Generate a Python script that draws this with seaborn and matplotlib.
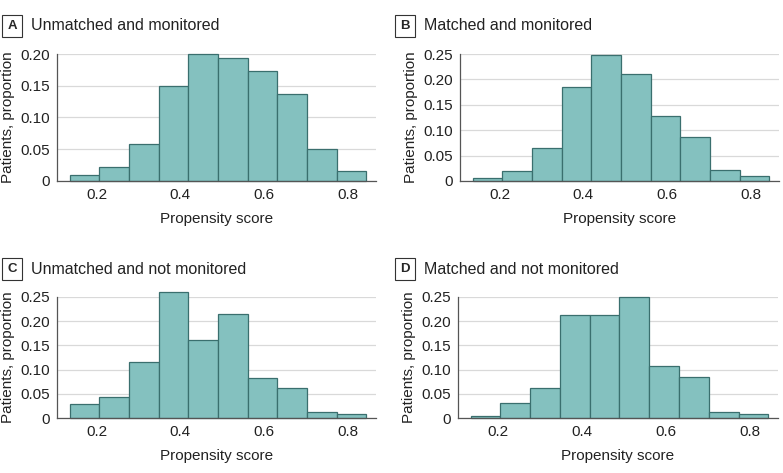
import numpy as np
import matplotlib
matplotlib.use("Agg")
import matplotlib.pyplot as plt
import seaborn as sns

# bin edges of propensity score (10 bins)
edges = [0.135, 0.206, 0.277, 0.348, 0.419, 0.490, 0.561, 0.632, 0.703, 0.774, 0.845]

# proportions per bin
unmatched_monitored = [0.010, 0.022, 0.058, 0.150, 0.200, 0.194, 0.173, 0.137, 0.051, 0.016]
matched_monitored = [0.005, 0.020, 0.065, 0.185, 0.249, 0.210, 0.127, 0.087, 0.022, 0.009]
unmatched_not_monitored = [0.029, 0.043, 0.115, 0.260, 0.161, 0.215, 0.082, 0.063, 0.012, 0.008]
matched_not_monitored = [0.004, 0.032, 0.063, 0.212, 0.213, 0.251, 0.107, 0.084, 0.012, 0.008]

panel_letters = ["A", "B", "C", "D"]
panel_titles = ["Unmatched and monitored", "Matched and monitored",
                "Unmatched and not monitored", "Matched and not monitored"]
panel_data = [unmatched_monitored, matched_monitored,
              unmatched_not_monitored, matched_not_monitored]
panel_ymax = [0.20, 0.25, 0.25, 0.25]

sns.set_style("white")
plt.rcParams['font.family'] = ['Liberation Sans', 'DejaVu Sans']

fig = plt.figure(figsize=(7.83, 4.73), dpi=100)
W, H = 783, 473

# axes boxes in pixels: left, top, right, bottom
boxes = [(57, 54, 376, 181), (460, 54, 779, 181),
         (57, 297, 376, 418), (458, 297, 778, 418)]
title_x = [3, 396, 3, 396]
title_y = [26, 26, 269, 269]

fill = "#84c1bf"
edge = "#3a6f6e"
fs = 11

for i in range(4):
    l, t, r, b = boxes[i]
    ax = fig.add_axes([l / W, 1 - b / H, (r - l) / W, (b - t) / H])
    centers = [(edges[k] + edges[k + 1]) / 2 for k in range(len(edges) - 1)]
    sns.histplot(x=centers, weights=panel_data[i], bins=edges, ax=ax,
                 color=fill, edgecolor=edge, linewidth=0.9, alpha=1)
    for p in ax.patches:
        p.set_clip_on(False)
    ax.set_xlim(0.105, 0.868)
    ymax = panel_ymax[i]
    ax.set_ylim(0, ymax)
    yt = np.arange(0, ymax + 0.001, 0.05)
    ax.set_yticks(yt)
    ax.set_yticklabels(["0"] + ["%.2f" % v for v in yt[1:]])
    ax.set_xticks([0.2, 0.4, 0.6, 0.8])
    ax.set_xticklabels(["0.2", "0.4", "0.6", "0.8"])
    ax.yaxis.grid(True, color="#d9d9d9", linewidth=0.9)
    ax.set_axisbelow(True)
    for s in ["top", "right"]:
        ax.spines[s].set_visible(False)
    for s in ["left", "bottom"]:
        ax.spines[s].set_color("#555555")
        ax.spines[s].set_linewidth(0.9)
    ax.tick_params(axis="both", direction="out", length=3, width=0.8,
                   color="#555555", labelsize=fs, pad=2, labelcolor="#222222")
    ax.set_xlabel("Propensity score", fontsize=fs, labelpad=7, color="#222222")
    ax.set_ylabel("Patients, proportion", fontsize=fs, labelpad=4, color="#222222")

    # panel letter in a box and title
    fig.text((title_x[i] + 9) / W, 1 - title_y[i] / H, panel_letters[i],
             ha="center", va="center", fontsize=9.5, fontweight="bold",
             bbox=dict(boxstyle="square,pad=0.4", fc="white", ec="#333333", lw=0.8))
    fig.text((title_x[i] + 28) / W, 1 - title_y[i] / H, panel_titles[i],
             ha="left", va="center", fontsize=11.5, color="#222222")

fig.savefig("out.png", dpi=100)
